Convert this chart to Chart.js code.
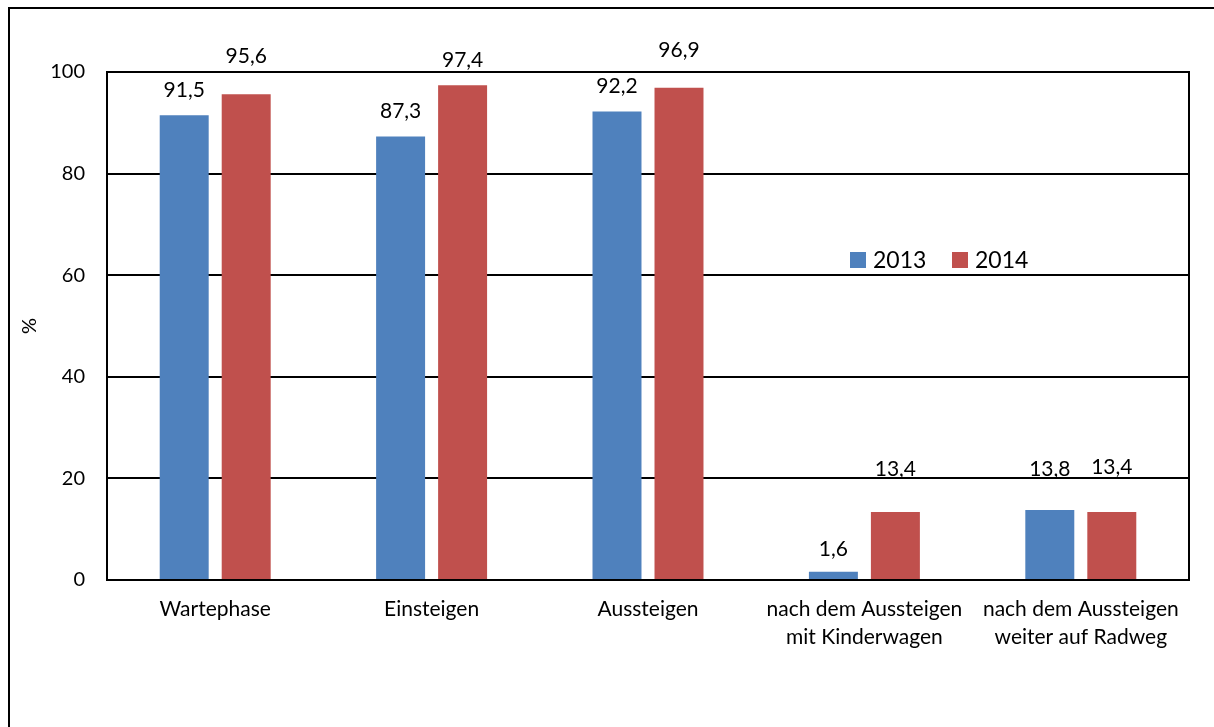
<!DOCTYPE html>
<html>
<head>
<meta charset="utf-8">
<style>
  html, body { margin: 0; padding: 0; background: #fff; }
  canvas { display: block; }
</style>
<script src="https://cdn.jsdelivr.net/npm/chart.js@4/dist/chart.umd.min.js"></script>
</head>
<body>
<canvas id="c" width="1214" height="727"></canvas>
<script>
// Categories (multi-line labels are arrays of lines)
const categories = [
  'Wartephase',
  'Einsteigen',
  'Aussteigen',
  ['nach dem Aussteigen', 'mit Kinderwagen'],
  ['nach dem Aussteigen', 'weiter auf Radweg']
];
const seriesNames = ['2013', '2014'];
const values2013 = [91.5, 87.3, 92.2, 1.6, 13.8];
const values2014 = [95.6, 97.4, 96.9, 13.4, 13.4];
const yTicks = [0, 20, 40, 60, 80, 100];

// Vertical distance (px) between each value label's centre and its bar top
const labelLift = [
  [25, 25, 25, 23, 41],
  [38, 25, 38, 43, 45]
];

const FONT = 'Lato, "Open Sans", sans-serif';
const fmt = v => v.toLocaleString('de-DE', { minimumFractionDigits: 1, maximumFractionDigits: 1 });

const framePlugin = {
  id: 'frame',
  beforeDatasetsDraw(chart) {
    const { ctx, chartArea: a } = chart;
    ctx.save();
    ctx.strokeStyle = '#000';
    ctx.lineWidth = 2;
    ctx.strokeRect(a.left, a.top, a.right - a.left, a.bottom - a.top);
    ctx.restore();
  },
  afterDraw(chart) {
    const { ctx } = chart;
    ctx.save();
    // outer frame (left and top edges)
    ctx.strokeStyle = '#000';
    ctx.lineWidth = 2;
    ctx.beginPath();
    ctx.moveTo(9, 727);
    ctx.lineTo(9, 8);
    ctx.lineTo(1214, 8);
    ctx.stroke();

    // value labels above each bar
    ctx.fillStyle = '#000';
    ctx.font = '21px ' + FONT;
    ctx.textAlign = 'center';
    ctx.textBaseline = 'middle';
    chart.data.datasets.forEach((ds, di) => {
      chart.getDatasetMeta(di).data.forEach((bar, i) => {
        ctx.fillText(fmt(ds.data[i]), bar.x, bar.y - labelLift[di][i]);
      });
    });

    // legend inside the plot area
    const items = [{ x: 850 }, { x: 952 }];
    ctx.font = '23px ' + FONT;
    ctx.textAlign = 'left';
    chart.data.datasets.forEach((ds, di) => {
      const x = items[di].x;
      ctx.fillStyle = ds.backgroundColor;
      ctx.fillRect(x, 252, 16, 16);
      ctx.fillStyle = '#000';
      ctx.fillText(ds.label, x + 23, 261);
    });
    ctx.restore();
  }
};

new Chart(document.getElementById('c'), {
  type: 'bar',
  data: {
    labels: categories,
    datasets: [
      { label: seriesNames[0], data: values2013, backgroundColor: '#4F81BD' },
      { label: seriesNames[1], data: values2014, backgroundColor: '#C0504D' }
    ]
  },
  options: {
    responsive: false,
    animation: false,
    devicePixelRatio: 1,
    layout: { padding: { top: 72, right: 25, left: 0, bottom: 0 } },
    datasets: { bar: { categoryPercentage: 0.573, barPercentage: 0.79 } },
    plugins: {
      legend: { display: false },
      tooltip: { enabled: false }
    },
    scales: {
      x: {
        grid: { display: false, drawTicks: false },
        border: { display: true, color: '#000', width: 2 },
        ticks: {
          color: '#000',
          font: { family: FONT, size: 21, lineHeight: 1.3 },
          padding: 16,
          maxRotation: 0,
          autoSkip: false
        },
        afterFit(scale) { scale.height = 147; }
      },
      y: {
        min: 0,
        max: 100,
        afterBuildTicks(scale) { scale.ticks = yTicks.map(v => ({ value: v })); },
        grid: { color: '#000', lineWidth: 2, drawTicks: false },
        border: { display: true, color: '#000', width: 2 },
        ticks: {
          color: '#000',
          font: { family: FONT, size: 20 },
          padding: 22
        },
        title: {
          display: true,
          text: '%',
          color: '#000',
          font: { family: FONT, size: 20 },
          padding: { top: 18, bottom: 0 }
        },
        afterFit(scale) { scale.width = 107; }
      }
    }
  },
  plugins: [framePlugin]
});
</script>
</body>
</html>
